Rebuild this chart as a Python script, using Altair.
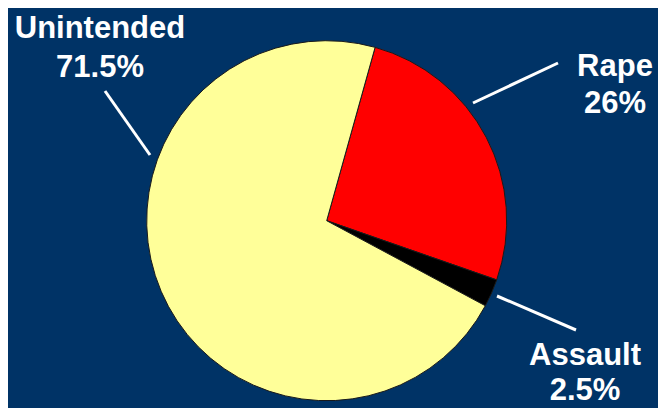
import altair as alt
import pandas as pd
import math

# Data
categories = ["Rape", "Assault", "Unintended"]
values = [26.0, 2.5, 71.5]
pct_labels = ["26%", "2.5%", "71.5%"]
colors = ["#FF0000", "#000000", "#FFFF99"]

df = pd.DataFrame({
    "category": categories,
    "value": values,
    "rank": list(range(len(categories))),
})

# Layout (annotation placement, pixels in the plot area)
W, H = 650, 400
CX, CY, R = 318.7, 212.7, 180
START = math.radians(15.6)

label_layout = pd.DataFrame({
    "category": categories,
    "pct": pct_labels,
    "lx": [607, 577, 92],
    "ly1": [68, 357, 30],
    "ly2": [105, 392, 69],
})

leader = pd.DataFrame({
    "x": [465, 489, 97],
    "y": [95, 288, 83],
    "x2": [550, 568, 142],
    "y2": [55, 322, 147],
})

pie = alt.Chart(df).mark_arc(
    outerRadius=R, stroke="#1a1a1a", strokeWidth=1
).encode(
    theta=alt.Theta("value:Q", stack=True,
                    scale=alt.Scale(range=[START, START + 2 * math.pi])),
    color=alt.Color("category:N",
                    scale=alt.Scale(domain=categories, range=colors),
                    legend=None),
    order=alt.Order("rank:Q"),
    x=alt.value(CX),
    y=alt.value(CY),
)

font = "Liberation Sans"
t1 = alt.Chart(label_layout).mark_text(
    font=font, fontSize=31, fontWeight="bold", color="white",
    align="center", baseline="alphabetic"
).encode(
    x=alt.X("lx:Q", scale=None),
    y=alt.Y("ly1:Q", scale=None),
    text="category:N",
)
t2 = alt.Chart(label_layout).mark_text(
    font=font, fontSize=31, fontWeight="bold", color="white",
    align="center", baseline="alphabetic"
).encode(
    x=alt.X("lx:Q", scale=None),
    y=alt.Y("ly2:Q", scale=None),
    text="pct:N",
)

lines = alt.Chart(leader).mark_rule(color="white", strokeWidth=3).encode(
    x=alt.X("x:Q", scale=None),
    y=alt.Y("y:Q", scale=None),
    x2="x2:Q",
    y2="y2:Q",
)

chart = alt.layer(pie, lines, t1, t2).properties(
    width=W, height=H, background="#003366", padding=0,
    autosize=alt.AutoSizeParams(type="none"),
).configure_view(strokeWidth=0)

chart.save("out.html", embed_options={"renderer": "svg", "actions": False})
